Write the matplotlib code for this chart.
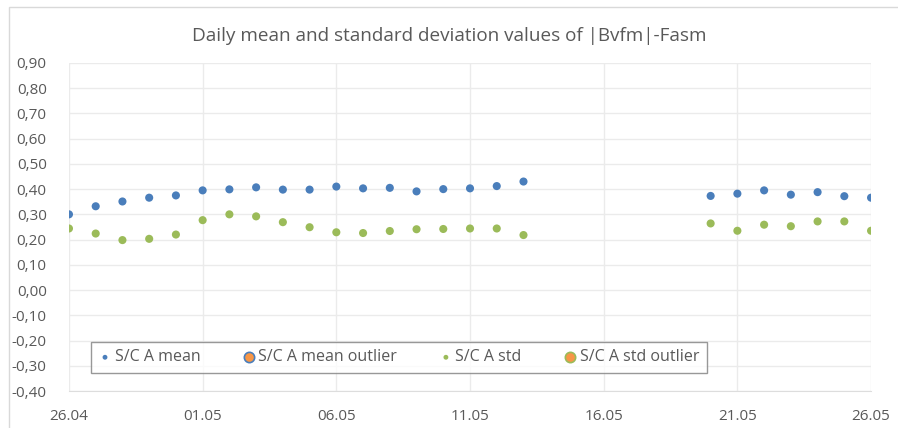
import matplotlib
matplotlib.use("Agg")
import matplotlib.pyplot as plt
import matplotlib.dates as mdates
from matplotlib.patches import Rectangle
import numpy as np
import pandas as pd

# daily values (no data 14.05 - 19.05)
days = ["26.04", "27.04", "28.04", "29.04", "30.04",
        "01.05", "02.05", "03.05", "04.05", "05.05", "06.05", "07.05",
        "08.05", "09.05", "10.05", "11.05", "12.05", "13.05",
        "20.05", "21.05", "22.05", "23.05", "24.05", "25.05", "26.05"]
mean_vals = [0.300, 0.332, 0.351, 0.366, 0.375,
             0.395, 0.399, 0.407, 0.398, 0.398, 0.410, 0.403,
             0.405, 0.391, 0.400, 0.403, 0.412, 0.430,
             0.373, 0.382, 0.395, 0.378, 0.388, 0.372, 0.366]
std_vals = [0.244, 0.224, 0.198, 0.203, 0.220,
            0.277, 0.300, 0.292, 0.269, 0.249, 0.229, 0.226,
            0.234, 0.241, 0.242, 0.244, 0.244, 0.218,
            0.264, 0.235, 0.259, 0.253, 0.272, 0.272, 0.235]
# outlier series are empty in this period
mean_outlier_days = []
mean_outlier_vals = []
std_outlier_days = []
std_outlier_vals = []

BLUE = "#4A7EBB"
GREEN = "#9BBB59"
ORANGE = "#F79646"
TEXT = "#595959"
GRID = "#EBEBEB"

plt.rcParams["font.family"] = ["Open Sans", "DejaVu Sans"]


def to_dates(labels):
    return pd.to_datetime([d + ".2020" for d in labels], format="%d.%m.%Y")


x = to_dates(days)

fig = plt.figure(figsize=(8.98, 4.28), dpi=100)
ax = fig.add_axes([0.0768, 0.0864, 0.8932, 0.7666])

ax.scatter(x, mean_vals, s=34, color=BLUE, edgecolors="none", zorder=3,
           label="S/C A mean")
ax.scatter(to_dates(mean_outlier_days), mean_outlier_vals, s=34,
           color=ORANGE, edgecolors=BLUE, linewidths=1.2, zorder=3,
           label="S/C A mean outlier")
ax.scatter(x, std_vals, s=34, color=GREEN, edgecolors="none", zorder=3,
           label="S/C A std")
ax.scatter(to_dates(std_outlier_days), std_outlier_vals, s=34,
           color=ORANGE, edgecolors=GREEN, linewidths=1.2, zorder=3,
           label="S/C A std outlier")

ax.set_ylim(-0.40, 0.90)
ax.set_yticks(np.arange(-0.4, 0.901, 0.1))
ax.yaxis.set_major_formatter(
    plt.FuncFormatter(lambda v, p: f"{v:.2f}".replace(".", ",").replace("-0,00", "0,00")))

start, end = x[0], x[-1]
ax.set_xlim(start, end)
ax.set_xticks(pd.date_range(start, end, freq="5D"))
ax.xaxis.set_major_formatter(mdates.DateFormatter("%d.%m"))

ax.grid(True, color=GRID, linewidth=1)
ax.set_axisbelow(True)
for side in ["top", "left", "right"]:
    ax.spines[side].set_visible(False)
ax.spines["bottom"].set_color("#DDDDDD")
ax.tick_params(length=0, labelsize=11, colors=TEXT)
ax.tick_params(axis="x", pad=13)
ax.tick_params(axis="y", pad=16)

fig.text(0.5, 0.915, "Daily mean and standard deviation values of |Bvfm|-Fasm",
         ha="center", va="center", fontsize=13.6, color=TEXT)

handles, labels = ax.get_legend_handles_labels()
leg = ax.legend(handles, labels, ncol=4, loc="lower left", mode="expand",
                bbox_to_anchor=(0.027, 0.056, 0.768, 0.098), fontsize=11.5,
                frameon=True, fancybox=False, edgecolor="#7F7F7F",
                handlelength=0.9, handletextpad=0.15, columnspacing=1.0,
                borderpad=0.45, borderaxespad=0, markerscale=0.6)
leg.get_frame().set_linewidth(1.0)
for t in leg.get_texts():
    t.set_color(TEXT)
leg.legend_handles[1].set_sizes([55])
leg.legend_handles[3].set_sizes([55])

# outer chart border
fig.patches.append(Rectangle((9 / 898, -0.1), 1.0, (428 - 7) / 428 + 0.1,
                             transform=fig.transFigure, fill=False,
                             edgecolor="#D9D9D9", linewidth=1))

fig.savefig("out.png", dpi=100)
